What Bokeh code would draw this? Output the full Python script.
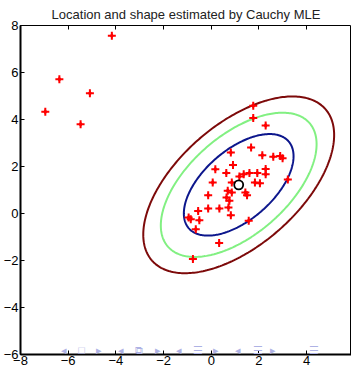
import numpy as np
from bokeh.plotting import figure
from bokeh.models import Range1d, FixedTicker, LinearAxis, Label, CustomLabelingPolicy
from bokeh.embed import file_html
from bokeh.resources import INLINE

# ---- data ----
px = [-4.17, -6.37, -5.09, -6.96, -5.48, 1.76, 1.76, 2.28, 1.67, 0.82,
      2.14, 2.60, 2.89, 2.99, 0.91, 0.17, 0.63, 1.18, 1.36, 1.60,
      1.93, 2.28, 2.28, 0.06, 0.86, 1.83, 2.04, 3.21, -0.13, 0.69,
      0.64, 0.76, 0.86, 1.43, 1.50, -0.55, -0.13, 0.34, 0.72, 0.82,
      -0.95, -0.86, -0.50, 1.57, -0.65, 0.33, -0.77]
py = [7.56, 5.71, 5.12, 4.33, 3.80, 4.58, 4.06, 3.75, 2.81, 2.60,
      2.48, 2.41, 2.45, 2.35, 2.06, 1.88, 1.72, 1.57, 1.67, 1.72,
      1.72, 1.89, 1.67, 1.32, 1.32, 1.32, 1.29, 1.45, 0.78, 0.97,
      0.68, 0.54, 0.89, 0.89, 0.78, 0.11, 0.21, 0.21, 0.26, -0.07,
      -0.17, -0.24, -0.29, -0.31, -0.67, -1.26, -1.94]
center = [1.15, 1.22]
shape = [[5.29, 2.8], [2.8, 4.67]]
levels = [1.0, 1.42, 1.74]
level_colors = ["#0c168c", "#82f082", "#7d0a0a"]
xticks = [-8, -6, -4, -2, 0, 2, 4, 6]
yticks = [-6, -4, -2, 0, 2, 4, 6, 8]
nav_symbols = ["◂", "□", "▸", "◂", "⧉", "▸", "◂", "☰", "▸", "◂", "☰", "▸", "☰"]
nav_px = [68, 86, 103, 125, 143, 162, 183, 202, 220, 242, 262, 277, 318]

FONT = "Liberation Sans"

p = figure(width=351, height=367, x_range=Range1d(-8, 5.88), y_range=Range1d(-6, 8),
           output_backend="svg", toolbar_location=None,
           min_border_left=2, min_border_right=0, min_border_top=0, min_border_bottom=0,
           title="Location and shape estimated by Cauchy MLE")
p.title.text_font = FONT
p.title.text_font_size = "13px"
p.title.text_font_style = "normal"
p.title.align = "center"
p.title.text_color = "#222222"
p.title.standoff = 8
p.grid.visible = False
p.outline_line_color = "black"
p.outline_line_width = 1
p.background_fill_color = "white"
p.border_fill_color = "white"

for ax, ticks in ((p.xaxis[0], xticks), (p.yaxis[0], yticks)):
    ax.ticker = FixedTicker(ticks=ticks)
    ax.major_tick_in = 4
    ax.major_tick_out = 0
    ax.minor_tick_line_color = None
    ax.axis_line_width = 2
    ax.major_label_text_font = FONT
    ax.major_label_text_font_size = "13px"
    ax.major_label_text_color = "black"
    ax.major_label_standoff = 2
p.xaxis[0].major_label_standoff = 1

no_labels = CustomLabelingPolicy(code="for (const i of Array.from(indices)) indices.unset(i); return indices")
top = LinearAxis(ticker=FixedTicker(ticks=xticks), major_tick_in=4, major_tick_out=0,
                 minor_tick_line_color=None, axis_line_color=None,
                 major_label_policy=no_labels, major_label_standoff=0,
                 major_label_text_font_size="0px")
p.add_layout(top, "above")

# contours of the fitted location/shape
mu = np.array(center)
L = np.linalg.cholesky(np.array(shape))
th = np.linspace(0, 2 * np.pi, 300)
circ = np.vstack([np.cos(th), np.sin(th)])
for r, c in zip(levels[::-1], level_colors[::-1]):
    pts = mu[:, None] + r * (L @ circ)
    p.line(pts[0], pts[1], line_color=c, line_width=2)

p.scatter(px, py, marker="cross", size=8, line_color="red", line_width=2)
p.scatter(px, py, marker="diamond", size=6, fill_color="red", line_color=None)
p.scatter([center[0]], [center[1]], marker="circle", size=9, fill_color=None,
          line_color="black", line_width=1.8)

# slide navigation symbols along the bottom (kept just inside the frame)
for s, x in zip(nav_symbols, nav_px):
    p.add_layout(Label(x=x - 25, y=5, x_units="screen", y_units="screen", text=s,
                       text_color="#aeb2e4", text_font_size="11px", level="overlay",
                       text_align="center", text_baseline="middle"))

open("out.html", "w").write(file_html(p, INLINE))
